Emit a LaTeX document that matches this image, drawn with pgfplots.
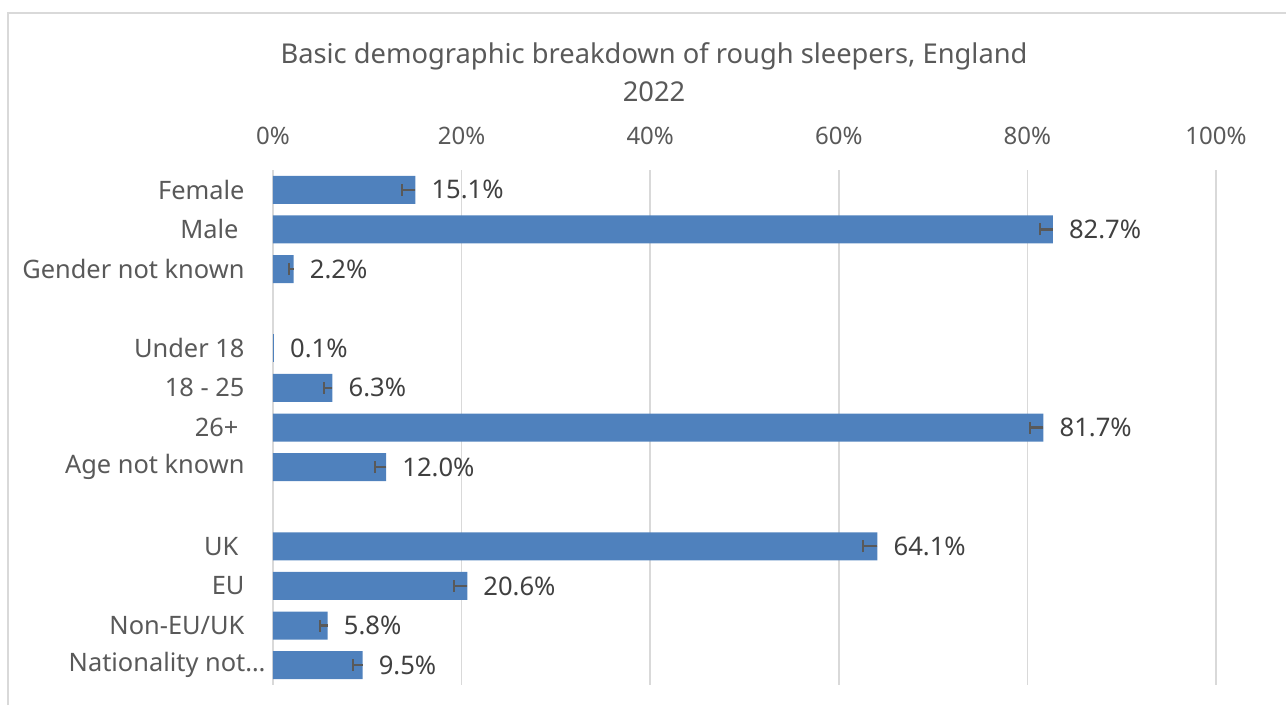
\documentclass[border=0pt]{standalone}
\usepackage{pgfplots}
\pgfplotsset{compat=1.18}
\usepackage{pgfplotstable}
\usepackage{fontspec}
\setmainfont{Noto Sans}
\definecolor{barblue}{HTML}{4F81BD}
\definecolor{gridgray}{HTML}{D9D9D9}
\definecolor{txtgray}{HTML}{595959}
\definecolor{lblgray}{HTML}{404040}
\definecolor{errgray}{HTML}{595959}
\pgfplotstableread{
i v e
0 15.1 1.4
1 82.7 1.4
2 2.2 0.5
5 6.3 0.85
6 81.7 1.4
7 12.0 1.15
9 64.1 1.5
10 20.6 1.4
11 5.8 0.85
12 9.5 1.05
}\datatable
\pgfplotstableread{
i v
4 0.1
}\smalltable
\begin{document}
\begin{tikzpicture}[x=1pt,y=1pt]
\useasboundingbox (0,0) rectangle (1286,705);
\draw[gridgray, line width=1.5pt] (8,0) -- (8,692) -- (1290,692);
\node[txtgray, font=\fontsize{27.3}{34}\selectfont, anchor=base] at (654,641) {Basic demographic breakdown of rough sleepers, England};
\node[txtgray, font=\fontsize{27.3}{34}\selectfont, anchor=base] at (654,603) {2022};
\begin{axis}[
  at={(273pt,20pt)}, anchor=south west,
  width=943pt, height=515pt, scale only axis,
  xmin=0, xmax=100, ymin=-0.5, ymax=12.5,
  y dir=reverse,
  xbar, bar width=28pt, bar shift=0pt,
  axis line style={draw=none},
  xmajorgrids, grid style={gridgray, line width=1.5pt},
  major tick length=0pt,
  xtick={0,20,40,60,80,100},
  xticklabels={0\%,20\%,40\%,60\%,80\%,100\%},
  xticklabel pos=top,
  xticklabel style={font=\fontsize{24}{29}\selectfont, text=txtgray, yshift=22pt},
  ytick={0,1,2,3,4,5,6,7,8,9,10,11,12},
  yticklabels={Female, Male\hspace*{6pt}, Gender not known, {}, Under 18, 18 - 25, 26+\hspace*{6pt}, Age not known, {}, UK\hspace*{6pt}, EU, Non-EU/UK, Nationality not…\hspace*{-21pt}},
  yticklabel style={font=\fontsize{25.4}{30}\selectfont, text=txtgray, xshift=-25pt},
  point meta=x,
  /pgf/number format/assume math mode=true,
  nodes near coords={\pgfmathprintnumber[fixed,fixed zerofill,precision=1,assume math mode=true]{\pgfplotspointmeta}\%},
  nodes near coords style={font=\fontsize{25.6}{30}\selectfont, text=lblgray, anchor=west, inner sep=0pt, xshift=16pt},
]
\addplot[fill=barblue, draw=none,
  error bars/.cd, x dir=minus, x explicit,
  error bar style={line width=2.2pt, color=errgray},
  error mark options={line width=2.2pt, color=errgray, mark size=6pt, rotate=90}]
  table[x=v, y=i, x error minus=e] {\datatable};
\addplot[fill=barblue, draw=none] table[x=v, y=i] {\smalltable};
\end{axis}
\end{tikzpicture}
\end{document}
